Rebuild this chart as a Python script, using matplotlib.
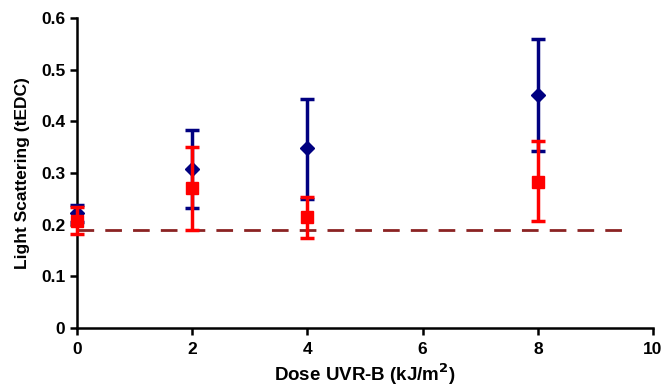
import matplotlib.pyplot as plt
import numpy as np

plt.rcParams['font.family'] = ['Liberation Sans', 'DejaVu Sans']
plt.rcParams['font.weight'] = 'bold'

dose = [0, 2, 4, 8]

blue_mean = [0.222, 0.308, 0.348, 0.451]
blue_hi = [0.238, 0.383, 0.443, 0.560]
blue_lo = [0.205, 0.232, 0.250, 0.343]

red_mean = [0.207, 0.271, 0.215, 0.283]
red_hi = [0.235, 0.350, 0.253, 0.362]
red_lo = [0.182, 0.190, 0.175, 0.207]

baseline = 0.190
baseline_x = [0, 9.5]

fig = plt.figure(figsize=(6.65, 3.92), dpi=100)
ax = fig.add_axes([0.116, 0.163, 0.866, 0.791])

b = np.array(blue_mean)
ax.errorbar(dose, b, yerr=[b - np.array(blue_lo), np.array(blue_hi) - b],
            fmt='D', color='#000080', ms=7, elinewidth=2.5, capsize=5,
            capthick=2.5, zorder=3, clip_on=False)
r = np.array(red_mean)
ax.errorbar(dose, r, yerr=[r - np.array(red_lo), np.array(red_hi) - r],
            fmt='s', color='#FF0000', ms=9, elinewidth=2.5, capsize=5,
            capthick=2.5, zorder=4, clip_on=False)

ax.plot(baseline_x, [baseline, baseline], color='#8B2323', lw=2,
        dashes=(6, 4), zorder=2)

ax.set_xlim(0, 10)
ax.set_ylim(0, 0.6)
ax.set_xticks([0, 2, 4, 6, 8, 10])
ax.set_yticks([0, 0.1, 0.2, 0.3, 0.4, 0.5, 0.6])
ax.set_yticklabels(['0', '0.1', '0.2', '0.3', '0.4', '0.5', '0.6'])
for s in ['top', 'right']:
    ax.spines[s].set_visible(False)
for s in ['left', 'bottom']:
    ax.spines[s].set_linewidth(1.8)
ax.tick_params(direction='out', length=5, width=1.8, labelsize=12.5)
ax.tick_params(axis='x', pad=5)
ax.set_xlabel('Dose UVR-B (kJ/m$^\\mathbf{2}$)', fontsize=13.5,
              fontweight='bold', labelpad=3)
ax.set_ylabel('Light Scattering (tEDC)', fontsize=12.5, fontweight='bold',
              labelpad=8)
for lab in ax.get_xticklabels() + ax.get_yticklabels():
    lab.set_fontweight('bold')

fig.savefig('out.png', dpi=100)
